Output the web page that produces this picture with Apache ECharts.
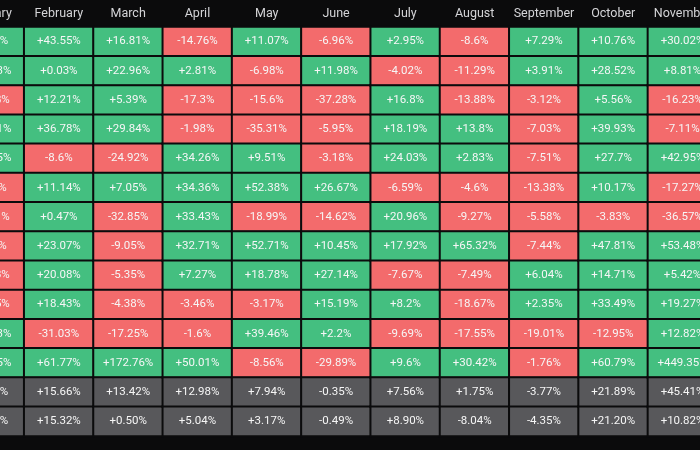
<!DOCTYPE html>
<html><head><meta charset="utf-8">
<script src="https://cdn.jsdelivr.net/npm/echarts@6/dist/echarts.min.js"></script>
<style>
html,body{margin:0;padding:0;background:#0b0b0c;overflow:hidden;width:700px;height:450px;}
#c{position:absolute;left:-60px;top:0;width:820px;height:450px;}
</style></head>
<body><div id="c"></div>
<script>
const months = ["January","February","March","April","May","June","July","August","September","October","November"];
const rowNames = ["2024","2023","2022","2021","2020","2019","2018","2017","2016","2015","2014","2013","Average","Median"];
const jan = [0.62, 39.63, -16.68, 14.51, 29.95, -7.59, -25.41, -0.04, -14.83, -33.05, 10.03, 44.05];
const feb = [43.55, 0.03, 12.21, 36.78, -8.6, 11.14, 0.47, 23.07, 20.08, 18.43, -31.03, 61.77];
const mar = [16.81, 22.96, 5.39, 29.84, -24.92, 7.05, -32.85, -9.05, -5.35, -4.38, -17.25, 172.76];
const apr = [-14.76, 2.81, -17.3, -1.98, 34.26, 34.36, 33.43, 32.71, 7.27, -3.46, -1.6, 50.01];
const may = [11.07, -6.98, -15.6, -35.31, 9.51, 52.38, -18.99, 52.71, 18.78, -3.17, 39.46, -8.56];
const jun = [-6.96, 11.98, -37.28, -5.95, -3.18, 26.67, -14.62, 10.45, 27.14, 15.19, 2.2, -29.89];
const jul = [2.95, -4.02, 16.8, 18.19, 24.03, -6.59, 20.96, 17.92, -7.67, 8.2, -9.69, 9.6];
const aug = [-8.6, -11.29, -13.88, 13.8, 2.83, -4.6, -9.27, 65.32, -7.49, -18.67, -17.55, 30.42];
const sep = [7.29, 3.91, -3.12, -7.03, -7.51, -13.38, -5.58, -7.44, 6.04, 2.35, -19.01, -1.76];
const oct = [10.76, 28.52, 5.56, 39.93, 27.7, 10.17, -3.83, 47.81, 14.71, 33.49, -12.95, 60.79];
const nov = [30.02, 8.81, -16.23, -7.11, 42.95, -17.27, -36.57, 53.48, 5.42, 19.27, 12.82, 449.35];
const average = [3.43, 15.66, 13.42, 12.98, 7.94, -0.35, 7.56, 1.75, -3.77, 21.89, 45.41];
const median = [0.29, 15.32, 0.50, 5.04, 3.17, -0.49, 8.90, -8.04, -4.35, 21.20, 10.82];

const cols = [jan, feb, mar, apr, may, jun, jul, aug, sep, oct, nov];
const GREEN = '#44bf80', RED = '#f36b6c', GREY = '#58585b';
const data = [];
cols.forEach((col, x) => {
  col.forEach((v, y) => {
    data.push({value: [x, y, v], itemStyle: {color: v >= 0 ? GREEN : RED},
      label: {formatter: (v > 0 ? '+' : '') + v + '%'}});
  });
  [average[x], median[x]].forEach((v, k) => {
    data.push({value: [x, 12 + k, v], itemStyle: {color: GREY},
      label: {formatter: (v > 0 ? '+' : '') + v.toFixed(2) + '%'}});
  });
});

const chart = echarts.init(document.getElementById('c'), null, {renderer: 'canvas'});
chart.setOption({
  backgroundColor: '#0b0b0c',
  animation: false,
  grid: {left: 14.9, top: 27, width: 762.3, height: 409},
  xAxis: {type: 'category', data: months, position: 'top',
    axisLine: {show: false}, axisTick: {show: false}, splitLine: {show: false},
    axisLabel: {interval: 0, color: '#d4d4d7', fontSize: 12.5, fontFamily: 'Roboto', margin: 7}},
  yAxis: {type: 'category', data: rowNames, inverse: true, show: false},
  series: [{type: 'heatmap', data: data,
    itemStyle: {borderColor: '#0b0b0c', borderWidth: 2},
    label: {show: true, color: '#f6f6f6', fontSize: 11.5, fontFamily: 'Roboto'},
    emphasis: {disabled: true}}]
});
</script></body></html>
